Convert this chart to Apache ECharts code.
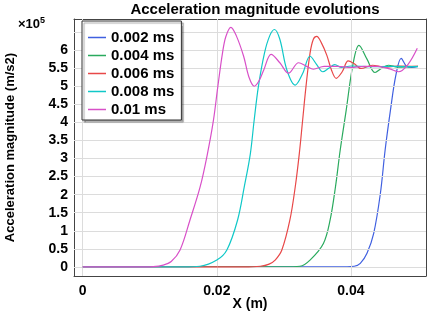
<!DOCTYPE html>
<html>
<head>
<meta charset="utf-8">
<script src="https://cdn.jsdelivr.net/npm/echarts@6/dist/echarts.min.js"></script>
<style>
  html, body { margin: 0; padding: 0; background: #fff; }
  #main { width: 429px; height: 311px; }
</style>
</head>
<body>
<div id="main"></div>
<script>
// values in units of 1e5 m/s2
var legendNames = ['0.002 ms', '0.004 ms', '0.006 ms', '0.008 ms', '0.01 ms'];
var colors = ['#4060e0', '#2aaa5e', '#e84848', '#10c8c8', '#d850c8'];

var x002 = [0, 0.038, 0.0405, 0.0414, 0.0424, 0.0434, 0.0444, 0.0451, 0.0459, 0.0467, 0.0475, 0.0483, 0.0491, 0.050];
var y002 = [0, 0, 0.02, 0.1, 0.38, 0.93, 2.04, 3.23, 4.34, 5.3, 5.77, 5.55, 5.52, 5.55];

var x004 = [0, 0.03, 0.0324, 0.0339, 0.0359, 0.0369, 0.0377, 0.0384, 0.0393, 0.0403, 0.0412, 0.0424, 0.0436, 0.0446, 0.0456, 0.047, 0.050];
var y004 = [0, 0, 0.02, 0.19, 0.65, 1.30, 2.22, 3.23, 4.34, 5.6, 6.13, 5.75, 5.38, 5.5, 5.58, 5.53, 5.55];

var x006 = [0, 0.024, 0.0265, 0.0278, 0.0287, 0.0297, 0.0309, 0.0317, 0.0323, 0.0328, 0.0333, 0.0339, 0.0344, 0.0349, 0.0356, 0.0364, 0.0371, 0.0378, 0.0387, 0.0396, 0.0405, 0.0415, 0.0432, 0.045, 0.047, 0.050];
var y006 = [0, 0, 0.02, 0.08, 0.19, 0.47, 1.30, 2.22, 3.13, 4.06, 4.99, 5.91, 6.3, 6.38, 6.2, 5.86, 5.45, 5.22, 5.4, 5.70, 5.62, 5.49, 5.58, 5.53, 5.56, 5.55];

var x008 = [0, 0.015, 0.0175, 0.020, 0.0215, 0.0231, 0.0241, 0.025, 0.02557, 0.0262, 0.0271, 0.0279, 0.0286, 0.0294, 0.03045, 0.0317, 0.0328, 0.0339, 0.0349, 0.0358, 0.0367, 0.0376, 0.0386, 0.040, 0.043, 0.046, 0.050];
var y008 = [0, 0, 0.02, 0.19, 0.47, 1.30, 2.22, 3.13, 4.06, 4.99, 5.91, 6.4, 6.57, 6.3, 5.45, 5.03, 5.35, 5.83, 5.6, 5.40, 5.5, 5.6, 5.52, 5.56, 5.54, 5.55, 5.54];

var x01 = [0, 0.008, 0.0105, 0.012, 0.0132, 0.01452, 0.016, 0.01752, 0.0186, 0.0195, 0.02015, 0.02084, 0.02134, 0.0221, 0.0229, 0.024, 0.0248, 0.0256, 0.0263, 0.027, 0.0281, 0.0294, 0.0307, 0.0322, 0.0334, 0.0344, 0.036, 0.038, 0.040, 0.042, 0.044, 0.0458, 0.0471, 0.0485, 0.0499];
var y01 = [0, 0, 0.01, 0.05, 0.15, 0.47, 1.30, 2.22, 3.13, 4.06, 4.99, 5.91, 6.37, 6.63, 6.4, 5.83, 5.25, 5.0, 5.15, 5.45, 5.88, 5.65, 5.36, 5.65, 5.55, 5.47, 5.55, 5.55, 5.52, 5.55, 5.55, 5.48, 5.40, 5.6, 6.05];

var xTicks = [0, 0.02, 0.04];
var yTicks = [0, 0.5, 1, 1.5, 2, 2.5, 3, 3.5, 4, 4.5, 5, 5.5, 6, 6.5];
var yLabels = [0, 0.5, 1, 1.5, 2, 2.5, 3, 3.5, 4, 4.5, 5, 5.5, 6];

var allX = [x002, x004, x006, x008, x01];
var allY = [y002, y004, y006, y008, y01];

function pairs(xs, ys) {
  return xs.map(function (v, i) { return [v, ys[i]]; });
}

var font = 'Liberation Sans, Arial, sans-serif';
var xMin = -0.0013, xMax = 0.0512, yMin = -0.25, yMax = 6.86;
// plain line icon for legend (tiny corner dots keep the box 18x15)
var lineIcon = 'path://M0,0L0.01,0L0,0.01Z M0,6.8L18,6.8L18,8.2L0,8.2Z M18,15L17.99,15L18,14.99Z';

var chart = echarts.init(document.getElementById('main'));

var series = legendNames.map(function (name, i) {
  return {
    name: name,
    type: 'line',
    data: pairs(allX[i], allY[i]),
    smooth: 0.35,
    symbol: 'none',
    lineStyle: { width: 1.2, color: colors[i] },
    itemStyle: { color: colors[i] },
    z: 3 + i
  };
});

// grid lines drawn as markLines at the tick values
var gridLines = xTicks.map(function (v) { return { xAxis: v }; })
  .concat(yTicks.map(function (v) { return { yAxis: v }; }));
series.unshift({
  name: 'grid',
  type: 'line',
  data: [[0, 0]],
  symbol: 'none',
  lineStyle: { opacity: 0 },
  silent: true,
  z: 1,
  markLine: {
    silent: true, symbol: ['none', 'none'], label: { show: false },
    lineStyle: { color: '#dcdcdc', width: 1, type: 'solid', opacity: 1 },
    emphasis: { disabled: true },
    animation: false,
    data: gridLines
  }
});

var frameLine = { show: true, onZero: false, lineStyle: { color: '#444', width: 1 } };

chart.setOption({
  animation: false,
  backgroundColor: '#fff',
  title: {
    text: 'Acceleration magnitude evolutions',
    left: 250, top: 0, textAlign: 'center', padding: [2, 5],
    textStyle: { fontFamily: font, fontWeight: 'bold', fontSize: 15, color: '#000' }
  },
  grid: {
    left: 74, right: 3, top: 19, bottom: 35,
    outerBoundsMode: 'none', containLabel: false
  },
  legend: {
    orient: 'vertical',
    left: 82, top: 21, z: 20,
    data: legendNames.map(function (n) { return { name: n, icon: lineIcon }; }),
    backgroundColor: '#fff',
    borderColor: '#333', borderWidth: 1,
    shadowColor: 'rgba(0,0,0,0.35)', shadowOffsetX: 2, shadowOffsetY: 2, shadowBlur: 1,
    padding: [9, 7, 3, 6],
    itemWidth: 18, itemHeight: 15, itemGap: 3,
    textStyle: { fontFamily: font, fontWeight: 'bold', fontSize: 15, lineHeight: 15, color: '#000' }
  },
  xAxis: [{
    type: 'value', min: xMin, max: xMax,
    name: 'X (m)', nameLocation: 'middle', nameGap: 21, nameMoveOverlap: false,
    nameTextStyle: { fontFamily: font, fontWeight: 'bold', fontSize: 14, color: '#000' },
    axisLine: frameLine,
    axisTick: { inside: true, length: 4, customValues: xTicks, lineStyle: { color: '#444' } },
    axisLabel: { customValues: xTicks, margin: 8, fontFamily: font, fontWeight: 'bold', fontSize: 14, color: '#000' },
    splitLine: { show: false }
  }, {
    type: 'value', min: xMin, max: xMax, position: 'top',
    axisLine: frameLine,
    axisTick: { inside: true, length: 4, customValues: xTicks, lineStyle: { color: '#444' } },
    axisLabel: { show: false },
    splitLine: { show: false }
  }],
  yAxis: [{
    type: 'value', min: yMin, max: yMax,
    name: 'Acceleration magnitude (m/s2)', nameLocation: 'middle', nameGap: 57,
    nameTextStyle: { fontFamily: font, fontWeight: 'bold', fontSize: 13, color: '#000' },
    axisLine: frameLine,
    axisTick: { inside: true, length: 4, customValues: yTicks, lineStyle: { color: '#444' } },
    axisLabel: { customValues: yLabels, margin: 6, fontFamily: font, fontWeight: 'bold', fontSize: 14, color: '#000' },
    splitLine: { show: false }
  }, {
    type: 'value', min: yMin, max: yMax, position: 'right',
    axisLine: frameLine,
    axisTick: { inside: true, length: 4, customValues: yTicks, lineStyle: { color: '#444' } },
    axisLabel: { show: false },
    splitLine: { show: false }
  }],
  graphic: [{
    type: 'text', left: 18, top: 16,
    style: {
      text: '×10{s|5}',
      font: 'bold 13px ' + font,
      fill: '#000',
      rich: { s: { fontSize: 9, fontWeight: 'bold', fontFamily: font, verticalAlign: 'top', padding: [0, 0, 8, 0] } }
    }
  }],
  series: series
});
</script>
</body>
</html>
